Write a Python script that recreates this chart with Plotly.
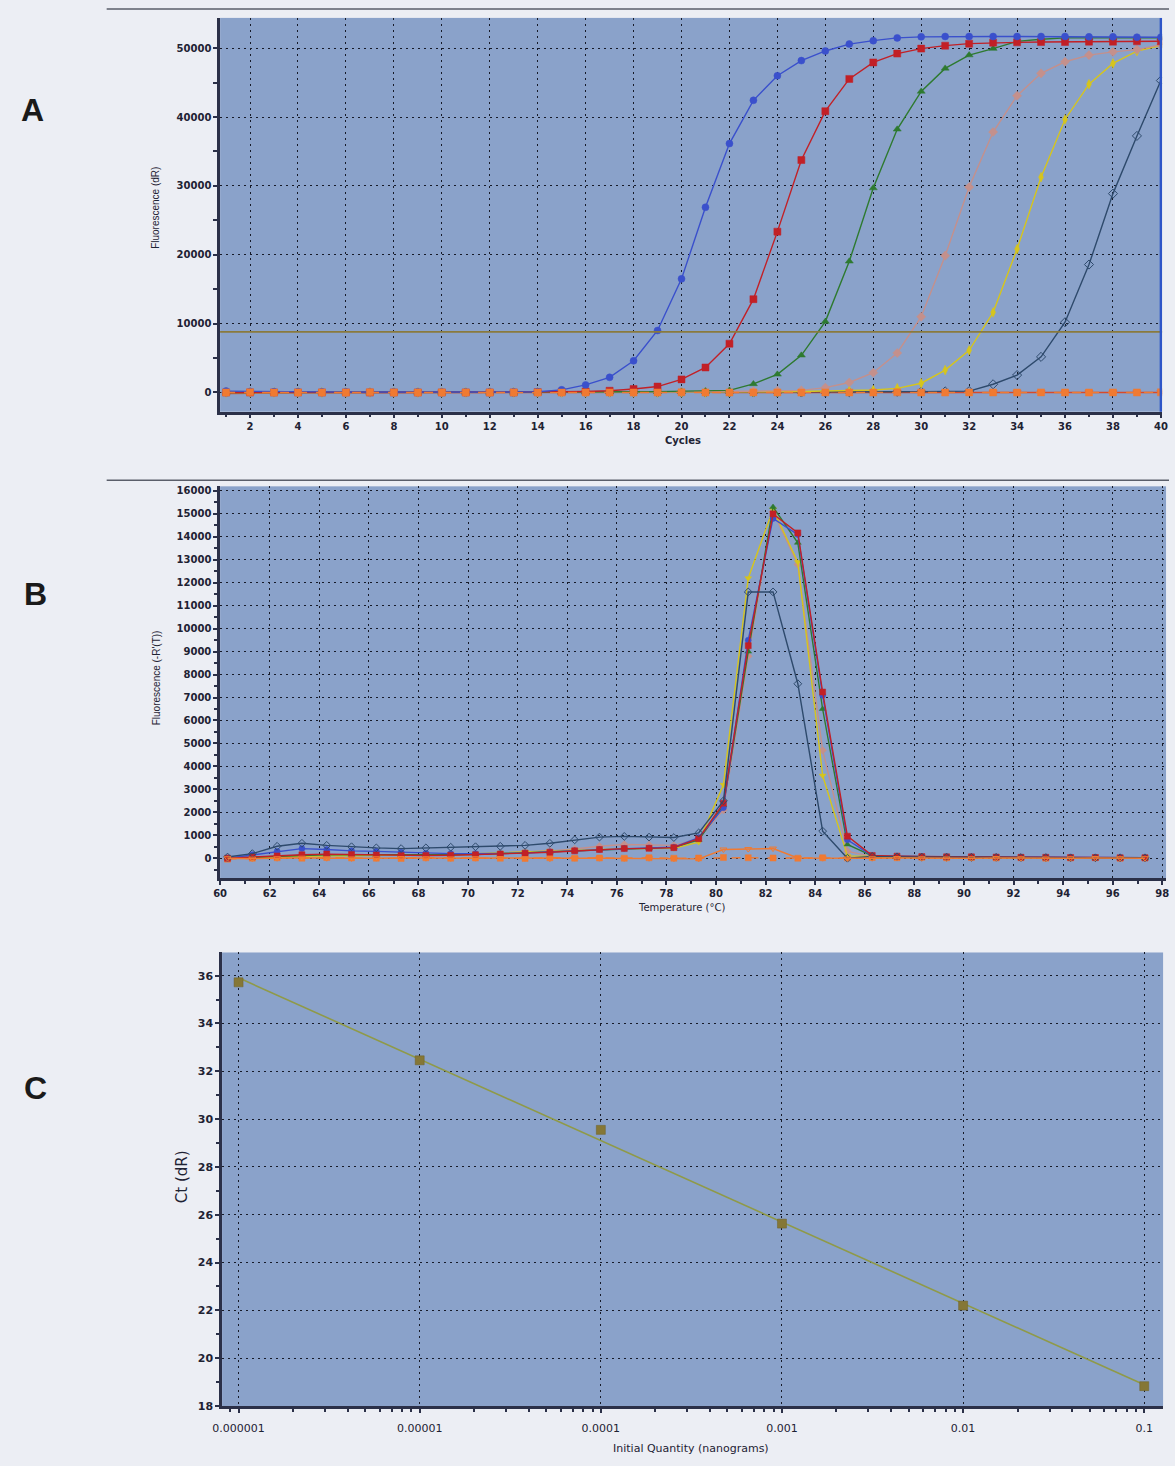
import numpy as np
import plotly.graph_objects as go

W, H = 1175, 1466

# ---------------- Panel A: amplification plots ----------------
cycles = list(range(1, 41))
amp_blue = [200, 150, 100, 100, 80, 60, 50, 50, 50, 40,
            40, 50, 60, 100, 380, 1100, 2200, 4600, 9000, 16500,
            26900, 36150, 42430, 46000, 48200, 49600, 50600, 51100, 51500, 51650,
            51700, 51700, 51700, 51700, 51700, 51700, 51650, 51650, 51600, 51600]
amp_red = [0, 0, 0, 0, 0, 0, 0, 0, 0, 0,
           0, 0, 0, 50, 100, 150, 250, 500, 860, 1900,
           3630, 7080, 13550, 23360, 33760, 40850, 45540, 47930, 49220, 49940,
           50370, 50660, 50800, 50850, 50900, 50900, 50950, 50950, 51000, 51000]
amp_green = [0, 0, 0, 0, 0, 0, 0, 0, 0, 0,
             0, 0, 0, 0, 0, 50, 80, 100, 120, 150,
             200, 300, 1240, 2630, 5400, 10290, 19050, 29690, 38220, 43720,
             47070, 49000, 49940, 51000, 51300, 51500, 51500, 51500, 51500, 51500]
amp_pink = [0, 0, 0, 0, 0, 0, 0, 0, 0, 0,
            0, 0, 0, 0, 0, 0, 0, 0, 50, 80,
            100, 150, 200, 250, 300, 700, 1450, 2870, 5740, 11000,
            19870, 29830, 37830, 43100, 46350, 48030, 49000, 49470, 49800, 50500]
amp_yellow = [0, 0, 0, 0, 0, 0, 0, 0, 0, 0,
              0, 0, 0, 0, 0, 0, 0, 0, 0, 0,
              0, 50, 80, 100, 150, 200, 250, 350, 600, 1340,
              3250, 6120, 11640, 20830, 31270, 39650, 44770, 47790, 49570, 50400]
amp_slate = [0, 0, 0, 0, 0, 0, 0, 0, 0, 0,
             0, 0, 0, 0, 0, 0, 0, 0, 0, 0,
             0, 0, 0, 0, 0, 0, 50, 80, 100, 120,
             150, 200, 1190, 2530, 5170, 10200, 18580, 28880, 37260, 45300]
amp_ntc1 = [0, 30, -20, 10, 0, -10, 20, 0, -20, 10,
            0, -10, 10, 0, -20, 0, 10, -10, 0, 20,
            0, -10, 10, 0, -20, 10, 0, -10, 20, 0,
            -10, 10, 0, -20, 10, 0, -10, 10, 0, 20]
amp_ntc2 = [-150, -100, -80, -60, -50, -40, -30, -20, -20, -10,
            -10, 0, 0, 10, 0, 10, 0, -10, 0, 0,
            10, 0, -10, 0, 10, 0, 0, -10, 0, 10,
            0, -10, 0, 10, 0, 0, 10, 0, -10, 0]
threshold_dR = 8800

# ---------------- Panel B: melting curves ----------------
temps = [60.3, 61.3, 62.3, 63.3, 64.3, 65.3, 66.3, 67.3, 68.3, 69.3,
         70.3, 71.3, 72.3, 73.3, 74.3, 75.3, 76.3, 77.3, 78.3, 79.3,
         80.3, 81.3, 82.3, 83.3, 84.3, 85.3, 86.3, 87.3, 88.3, 89.3,
         90.3, 91.3, 92.3, 93.3, 94.3, 95.3, 96.3, 97.3]
melt_blue = [0, 150, 300, 420, 380, 320, 300, 260, 220, 200,
             200, 200, 230, 280, 330, 380, 430, 450, 480, 900,
             2200, 9500, 14800, 14100, 7100, 800, 100, 80, 60, 50,
             60, 50, 40, 40, 30, 30, 20, 20]
melt_red = [0, 60, 100, 150, 180, 160, 140, 120, 120, 130,
            150, 180, 220, 260, 320, 380, 420, 430, 460, 850,
            2400, 9260, 15000, 14170, 7240, 960, 120, 90, 70, 60,
            60, 50, 40, 40, 30, 30, 20, 20]
melt_green = [0, 50, 80, 120, 150, 150, 140, 130, 130, 140,
              160, 200, 240, 280, 330, 380, 420, 440, 470, 800,
              2300, 9000, 15300, 13740, 6500, 600, 100, 80, 60, 50,
              50, 40, 30, 30, 20, 20, 10, 10]
melt_pink = [0, 40, 60, 100, 120, 120, 120, 130, 140, 150,
             170, 210, 260, 320, 400, 520, 600, 580, 560, 850,
             2100, 8800, 15100, 12800, 4700, 300, 80, 60, 50, 40,
             40, 30, 30, 20, 20, 10, 10, 10]
melt_yellow = [0, 30, 50, 80, 100, 110, 120, 140, 160, 180,
               200, 240, 280, 320, 360, 400, 420, 420, 430, 700,
               3200, 12200, 15200, 12900, 3600, 100, 60, 50, 40, 40,
               30, 30, 20, 20, 20, 10, 10, 10]
melt_slate = [50, 200, 520, 650, 560, 500, 450, 420, 450, 480,
              500, 520, 560, 650, 800, 920, 950, 920, 900, 1100,
              2500, 11600, 11600, 7600, 1180, 0, 80, 60, 50, 50,
              40, 40, 30, 30, 20, 20, 20, 20]
melt_ntc1 = [0, -20, 0, 20, 0, -10, 0, 10, 0, -10,
             0, 10, 0, -20, 0, 0, -10, 0, -20, -30,
             380, 400, 420, 10, 0, -10, 0, 10, 0, -10,
             0, 10, 0, -10, 0, 10, 0, 0]
melt_ntc2 = [-40, 0, 20, 0, 30, 10, 0, -10, 20, 0,
             10, 0, -10, 20, 0, 10, 0, 20, 0, 10,
             30, 20, 10, 0, 20, 10, 30, 20, 40, 20,
             30, 10, 20, 0, 10, 20, 0, 10]

# ---------------- Panel C: standard curve ----------------
quantity_ng = [1e-6, 1e-5, 1e-4, 1e-3, 1e-2, 1e-1]
quantity_labels = ["0.000001", "0.00001", "0.0001", "0.001", "0.01", "0.1"]
ct_values = [35.72, 32.46, 29.55, 25.63, 22.20, 18.83]


def fx(px):
    return px / W


def fy(py):
    return 1 - py / H


PLOT_BG = "#8aa2ca"
PAPER_BG = "#eceef4"
INK = "#1e2233"
AXIS_LINE = "#2b3048"
TICK_FONT = dict(family="DejaVu Sans", size=10, color=INK, weight="bold")

fig = go.Figure()

amp_series = [
    ("NTC b", amp_ntc2, "#d84a2a", "triangle-down", "solid"),
    ("S6", amp_slate, "#2e4a6c", "diamond-open", "solid"),
    ("S5", amp_yellow, "#d6c51c", "diamond-tall", "solid"),
    ("S4", amp_pink, "#c4908c", "diamond", "solid"),
    ("S3", amp_green, "#2e7a30", "triangle-up", "solid"),
    ("S2", amp_red, "#c22026", "square", "solid"),
    ("S1", amp_blue, "#3a50cc", "circle", "solid"),
    ("NTC a", amp_ntc1, "#f07a32", "square", "dash"),
]
for name, vals, col, sym, dash in amp_series:
    fig.add_trace(go.Scatter(
        x=cycles, y=vals, mode="lines+markers", name=name,
        line=dict(color=col, width=1.4, dash=dash),
        marker=dict(symbol=sym, size=7, color=col,
                    line=dict(width=1 if sym.endswith("open") else 0.5, color=col)),
        xaxis="x", yaxis="y", showlegend=False))

melt_series = [
    ("NTC b", melt_ntc2, "#f07a32", "square", "dash"),
    ("S4", melt_pink, "#c4908c", "diamond", "solid"),
    ("S5", melt_yellow, "#d6c51c", "triangle-down", "solid"),
    ("S3", melt_green, "#2e7a30", "triangle-up", "solid"),
    ("S1", melt_blue, "#3a50cc", "circle", "solid"),
    ("S2", melt_red, "#c22026", "square", "solid"),
    ("S6", melt_slate, "#2e4a6c", "diamond-open", "solid"),
    ("NTC a", melt_ntc1, "#f07a32", "triangle-down-open", "solid"),
]
for name, vals, col, sym, dash in melt_series:
    fig.add_trace(go.Scatter(
        x=temps, y=vals, mode="lines+markers", name=name,
        line=dict(color=col, width=1.4, dash=dash),
        marker=dict(symbol=sym, size=6, color=col,
                    line=dict(width=1 if sym.endswith("open") else 0.5, color=col)),
        xaxis="x2", yaxis="y2", showlegend=False))

# log-linear regression of Ct against log10(quantity)
logq = np.log10(quantity_ng)
slope, intercept = np.polyfit(logq, ct_values, 1)
fit_x = [quantity_ng[0], quantity_ng[-1]]
fit_y = [slope * np.log10(q) + intercept for q in fit_x]
fig.add_trace(go.Scatter(
    x=fit_x, y=fit_y, mode="lines", line=dict(color="#8f9a48", width=1.6),
    xaxis="x3", yaxis="y3", showlegend=False))
fig.add_trace(go.Scatter(
    x=quantity_ng, y=ct_values, mode="markers",
    marker=dict(symbol="square", size=9, color="#857736",
                line=dict(width=0.5, color="#6e6228")),
    xaxis="x3", yaxis="y3", showlegend=False))

axis_common = dict(
    showline=True, linecolor=AXIS_LINE, linewidth=2.5, mirror=False,
    ticks="outside", ticklen=4, tickwidth=1.5, tickcolor=AXIS_LINE,
    showgrid=True, gridcolor="#161a28", gridwidth=1.3, griddash="2px,4px",
    zeroline=False, tickfont=TICK_FONT, tickformat="d",
)

fig.update_layout(
    width=W, height=H,
    margin=dict(l=0, r=0, t=0, b=0),
    paper_bgcolor=PAPER_BG,
    plot_bgcolor=PLOT_BG,
    showlegend=False,
    xaxis=dict(axis_common, domain=[fx(213), fx(1168)], anchor="y",
               range=[0.75, 40.05], tick0=0, dtick=2,
               minor=dict(ticks="outside", dtick=1, ticklen=3, tickcolor=AXIS_LINE, showgrid=False)),
    yaxis=dict(axis_common, domain=[fy(413), fy(17)], anchor="x",
               range=[-2800, 54400], tickvals=[0, 10000, 20000, 30000, 40000, 50000],
               minor=dict(ticks="outside", tickvals=[5000, 15000, 25000, 35000, 45000],
                          ticklen=4, tickcolor=AXIS_LINE, showgrid=False)),
    xaxis2=dict(axis_common, domain=[fx(213), fx(1172)], anchor="y2",
                range=[60, 98.15], tick0=60, dtick=2,
                minor=dict(ticks="outside", dtick=1, ticklen=3, tickcolor=AXIS_LINE, showgrid=False)),
    yaxis2=dict(axis_common, domain=[fy(882), fy(488)], anchor="x2",
                range=[-870, 16200], tick0=0, dtick=1000,
                minor=dict(ticks="outside", dtick=500, ticklen=3, tickcolor=AXIS_LINE, showgrid=False)),
    xaxis3=dict(axis_common, domain=[fx(215), fx(1169)], anchor="y3",
                type="log", range=[-6.091, -0.896],
                tickvals=quantity_ng, ticktext=quantity_labels, tickformat=None,
                tickfont=dict(family="DejaVu Sans", size=11, color=INK),
                ticklabelstandoff=6,
                minor=dict(ticks="outside", dtick="D1", ticklen=3, tickcolor=AXIS_LINE, showgrid=False)),
    yaxis3=dict(axis_common, domain=[fy(1412.7), fy(956.7)], anchor="x3",
                range=[18, 36.97], tick0=18, dtick=2,
                tickfont=dict(family="DejaVu Sans", size=11, color=INK, weight="bold"),
                minor=dict(ticks="outside", dtick=1, ticklen=3, tickcolor=AXIS_LINE, showgrid=False)),
)

# threshold line and run cursor on the amplification plot
fig.add_shape(type="line", xref="x domain", yref="y", x0=0, x1=1,
              y0=threshold_dR, y1=threshold_dR, line=dict(color="#8a7a3c", width=1.6))
fig.add_shape(type="line", xref="x", yref="y domain", x0=40, x1=40, y0=0, y1=1,
              line=dict(color="#2d55c8", width=2.5))

# panel separators
for yy in (8, 482):
    fig.add_shape(type="line", xref="paper", yref="paper", x0=fx(98), x1=1,
                  y0=fy(yy), y1=fy(yy), line=dict(color="#5a5e6a", width=1.5))

ann = []


def label(text, x, y, size, angle=0, bold=False, family="Liberation Sans", color=INK):
    ann.append(dict(text=f"<b>{text}</b>" if bold else text, x=fx(x), y=fy(y),
                    xref="paper", yref="paper", showarrow=False, textangle=angle,
                    xanchor="center", yanchor="middle",
                    font=dict(family=family, size=size, color=color)))


label("A", 23, 110, 32, bold=True, color="#1a1a1a")
label("B", 26, 596, 32, bold=True, color="#1a1a1a")
label("C", 26, 1093, 32, bold=True, color="#1a1a1a")
label("Fluorescence (dR)", 148, 208, 10, angle=-90)
label("Cycles", 682, 442, 10, bold=True, family="DejaVu Sans")
label("Fluorescence (-R'(T))", 148, 680, 10, angle=-90)
label("Temperature (°C)", 681, 911, 10, family="DejaVu Sans")
label("Ct (dR)", 174, 1182, 15, angle=-90, family="DejaVu Sans")
label("Initial Quantity (nanograms)", 690, 1455, 11, family="DejaVu Sans")

fig.update_layout(annotations=ann)

fig.write_html("out.html")
